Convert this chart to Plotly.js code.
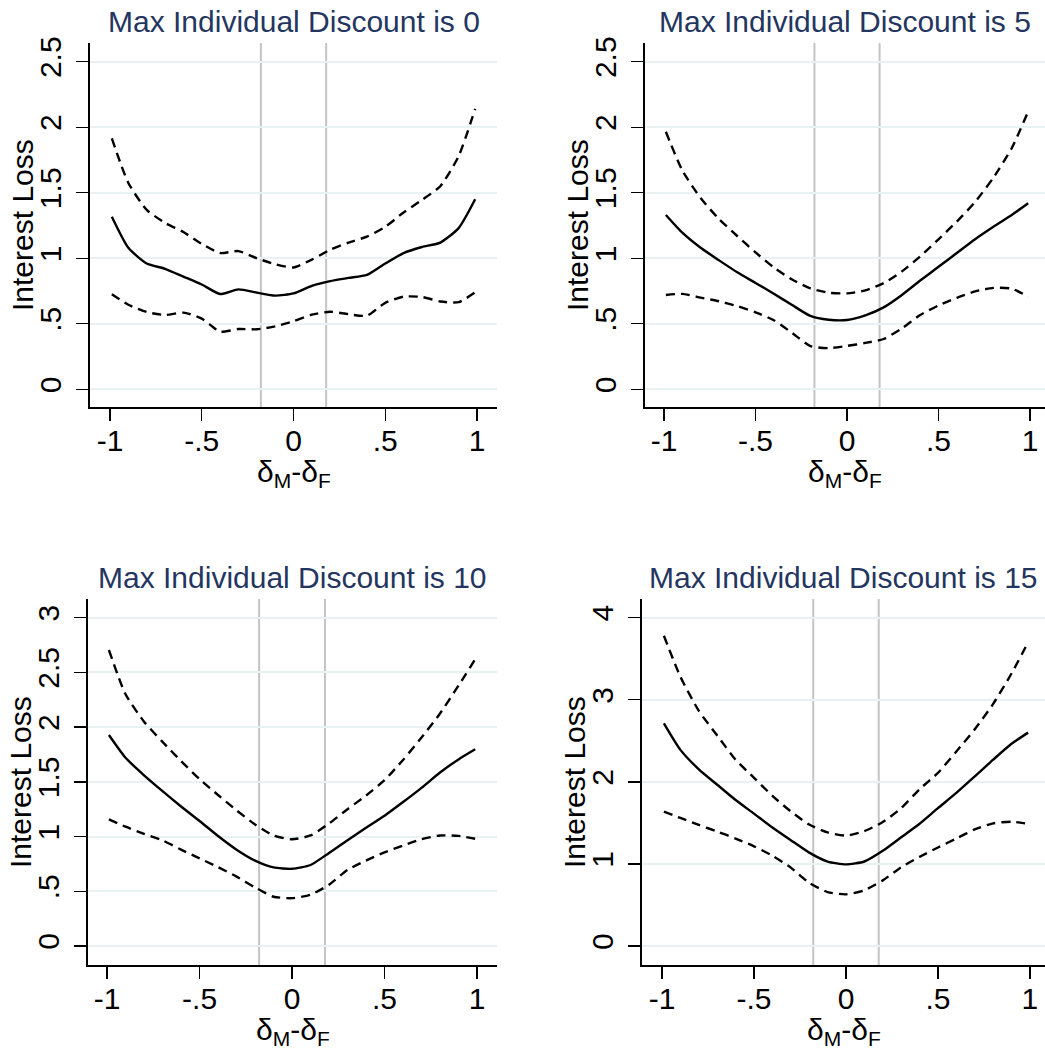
<!DOCTYPE html>
<html><head><meta charset="utf-8">
<script src="https://cdn.plot.ly/plotly-3.0.1.min.js"></script>
<style>html,body{margin:0;padding:0;background:#fff}#chart{width:1045px;height:1053px}</style>
</head><body><div id="chart"></div>
<script>
// ---- data ----
const xGrid = [-0.99,-0.9,-0.8,-0.7,-0.6,-0.5,-0.4,-0.3,-0.2,-0.1,0,0.1,0.2,0.3,0.4,0.5,0.6,0.7,0.8,0.9,0.99];

const fit0   = [1.317,1.080,0.960,0.920,0.860,0.800,0.727,0.763,0.738,0.715,0.732,0.790,0.826,0.850,0.873,0.960,1.040,1.086,1.120,1.230,1.450];
const upper0 = [1.915,1.575,1.370,1.270,1.200,1.110,1.040,1.055,1.000,0.955,0.930,0.990,1.065,1.120,1.165,1.240,1.350,1.445,1.550,1.780,2.140];
const lower0 = [0.725,0.645,0.590,0.567,0.585,0.540,0.440,0.460,0.458,0.480,0.520,0.570,0.592,0.573,0.562,0.660,0.707,0.705,0.670,0.665,0.740];

const fit5   = [1.330,1.195,1.080,0.985,0.893,0.812,0.730,0.643,0.560,0.531,0.529,0.564,0.625,0.720,0.830,0.935,1.040,1.145,1.240,1.330,1.420];
const upper5 = [1.966,1.670,1.460,1.300,1.170,1.045,0.930,0.838,0.770,0.737,0.732,0.755,0.810,0.900,1.015,1.145,1.280,1.430,1.615,1.840,2.120];
const lower5 = [0.720,0.728,0.700,0.672,0.635,0.588,0.527,0.430,0.330,0.314,0.331,0.354,0.384,0.465,0.567,0.640,0.698,0.747,0.774,0.768,0.707];

const fit10   = [1.928,1.720,1.560,1.415,1.275,1.142,1.005,0.880,0.780,0.718,0.705,0.740,0.850,0.967,1.080,1.190,1.315,1.445,1.585,1.705,1.797];
const upper10 = [2.705,2.300,2.050,1.865,1.690,1.525,1.380,1.240,1.110,1.010,0.975,1.010,1.120,1.250,1.375,1.515,1.700,1.905,2.125,2.380,2.620];
const lower10 = [1.157,1.090,1.025,0.965,0.880,0.800,0.720,0.634,0.535,0.450,0.437,0.468,0.560,0.695,0.780,0.855,0.918,0.975,1.010,1.006,0.980];

const fit15   = [2.713,2.390,2.153,1.965,1.779,1.613,1.445,1.290,1.138,1.029,0.995,1.030,1.160,1.325,1.490,1.680,1.865,2.066,2.270,2.464,2.600];
const upper15 = [3.780,3.280,2.865,2.565,2.270,2.050,1.830,1.640,1.480,1.385,1.345,1.400,1.510,1.680,1.910,2.110,2.370,2.640,2.950,3.320,3.700];
const lower15 = [1.637,1.560,1.475,1.395,1.310,1.215,1.100,0.955,0.770,0.658,0.630,0.680,0.800,0.960,1.087,1.200,1.310,1.420,1.495,1.515,1.488];

const panelTitles = ["Max Individual Discount is 0","Max Individual Discount is 5","Max Individual Discount is 10","Max Individual Discount is 15"];
const xTitle = "δ<sub>M</sub>-δ<sub>F</sub>";
const yTitle = "Interest Loss";
const refLines = [-0.178, 0.178];
const xTickVals = [-1,-0.5,0,0.5,1];
const xTickText = ["-1","-.5","0",".5","1"];
const yTickVals25 = [0,0.5,1,1.5,2,2.5];
const yTickText25 = ["0",".5","1","1.5","2","2.5"];
const yTickVals3 = [0,0.5,1,1.5,2,2.5,3];
const yTickText3 = ["0",".5","1","1.5","2","2.5","3"];
const yTickVals4 = [0,1,2,3,4];
const yTickText4 = ["0","1","2","3","4"];

// ---- layout geometry (pixels) ----
const W = 1045, H = 1053;
const panels = [
  {fit:fit0, up:upper0, lo:lower0, title:panelTitles[0], px:[90,497], py:[43,407], xr:[-1.109,1.109], yr:[-0.135,2.643], tv:yTickVals25, tt:yTickText25, ty:21},
  {fit:fit5, up:upper5, lo:lower5, title:panelTitles[1], px:[645,1045], py:[43,407], xr:[-1.104,1.082], yr:[-0.135,2.643], tv:yTickVals25, tt:yTickText25, ty:21},
  {fit:fit10, up:upper10, lo:lower10, title:panelTitles[2], px:[88,497], py:[599,965], xr:[-1.103,1.108], yr:[-0.174,3.171], tv:yTickVals3, tt:yTickText3, ty:577},
  {fit:fit15, up:upper15, lo:lower15, title:panelTitles[3], px:[642,1045], py:[599,965], xr:[-1.109,1.082], yr:[-0.231,4.228], tv:yTickVals4, tt:yTickText4, ty:577}
];

const FONT = "Liberation Sans, Arial, Helvetica, sans-serif";
const traces = [];
const layout = {
  width: W, height: H,
  margin: {l:0, r:0, t:0, b:0},
  paper_bgcolor: "#ffffff", plot_bgcolor: "#ffffff",
  showlegend: false,
  font: {family: FONT, color: "#000000"},
  shapes: [], annotations: []
};

panels.forEach((p, i) => {
  const n = i + 1;
  const xa = n === 1 ? "x" : "x" + n;
  const ya = n === 1 ? "y" : "y" + n;
  const xk = n === 1 ? "xaxis" : "xaxis" + n;
  const yk = n === 1 ? "yaxis" : "yaxis" + n;
  [[p.up, "9px,6px"], [p.lo, "9px,6px"], [p.fit, "solid"]].forEach(([ys, dash]) => {
    traces.push({
      x: xGrid, y: ys, xaxis: xa, yaxis: ya, type: "scatter", mode: "lines",
      line: {color: "#000000", width: 2.4, dash: dash, shape: "spline", smoothing: 0.6},
      hoverinfo: "skip"
    });
  });
  layout[xk] = {
    domain: [p.px[0]/W, p.px[1]/W], range: p.xr, anchor: ya,
    showgrid: false, zeroline: false, showline: true, linecolor: "#000", linewidth: 1.6,
    ticks: "outside", ticklen: 12, tickwidth: 1.4, tickcolor: "#000",
    tickvals: xTickVals, ticktext: xTickText, ticklabelstandoff: -6,
    tickfont: {size: 30, family: FONT, color: "#000"},
    fixedrange: true
  };
  layout[yk] = {
    domain: [1 - p.py[1]/H, 1 - p.py[0]/H], range: p.yr, anchor: xa,
    showgrid: true, gridcolor: "#e9f1f3", gridwidth: 2, zeroline: false,
    showline: true, linecolor: "#000", linewidth: 1.6,
    ticks: "outside", ticklen: 12, tickwidth: 1.4, tickcolor: "#000",
    tickvals: p.tv, ticktext: p.tt, tickangle: -90, ticklabelstandoff: 3,
    tickfont: {size: 30, family: FONT, color: "#000"},
    fixedrange: true
  };
  refLines.forEach(v => {
    layout.shapes.push({type: "line", xref: xa, yref: ya + " domain", x0: v, x1: v, y0: 0, y1: 1,
      line: {color: "#c4c4c4", width: 2}, layer: "below"});
  });
  // panel title
  layout.annotations.push({
    text: p.title, xref: "paper", yref: "paper",
    x: (p.px[0] + p.px[1]) / 2 / W, y: 1 - p.ty / H,
    xanchor: "center", yanchor: "middle", showarrow: false,
    font: {size: 30, family: FONT, color: "#243660"}
  });
  // x axis title
  layout.annotations.push({
    text: xTitle, xref: "paper", yref: "paper",
    x: (p.px[0] + p.px[1]) / 2 / W, y: 1 - (p.py[1] + 66) / H,
    xanchor: "center", yanchor: "middle", showarrow: false,
    font: {size: 30, family: FONT, color: "#000"}
  });
  // y axis title
  layout.annotations.push({
    text: yTitle, xref: "paper", yref: "paper", textangle: -90,
    x: (p.px[0] - 68) / W, y: 1 - (p.py[0] + p.py[1]) / 2 / H,
    xanchor: "center", yanchor: "middle", showarrow: false,
    font: {size: 30, family: FONT, color: "#000"}
  });
});

Plotly.newPlot("chart", traces, layout, {staticPlot: true, displayModeBar: false});
</script>
</body></html>
